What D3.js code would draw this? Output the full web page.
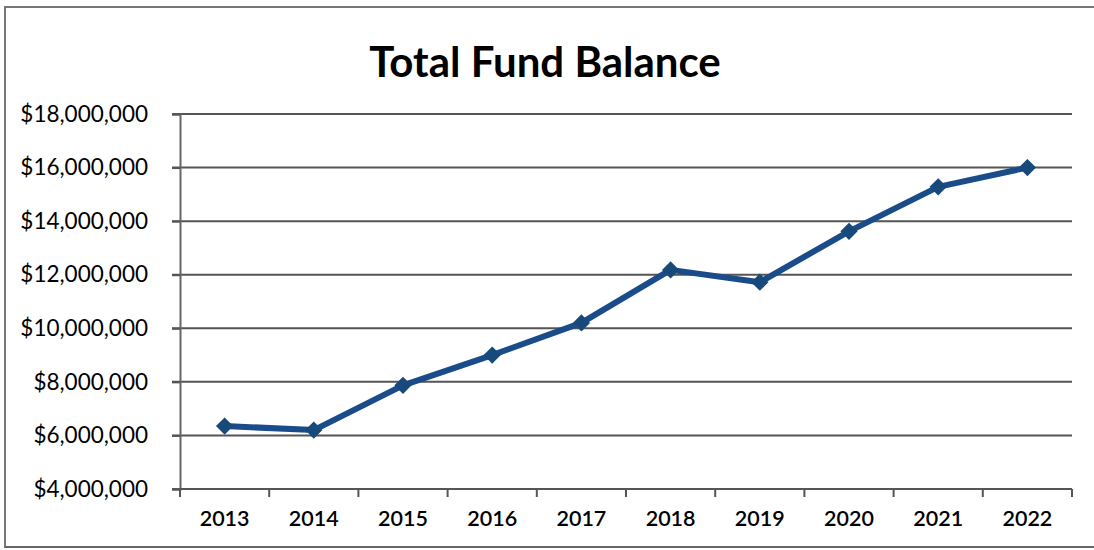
<!DOCTYPE html>
<html><head><meta charset="utf-8">
<script src="https://cdn.jsdelivr.net/npm/d3@7"></script>
<style>body{margin:0;background:#fff}svg{display:block}</style>
</head><body>
<svg id="c" width="1094" height="550"></svg>
<script>
const years = ["2013","2014","2015","2016","2017","2018","2019","2020","2021","2022"];
const balances = [6350000, 6200000, 7870000, 9000000, 10200000, 12180000, 11720000, 13620000, 15280000, 16000000];
const yTicks = [4000000, 6000000, 8000000, 10000000, 12000000, 14000000, 16000000, 18000000];
const title = "Total Fund Balance";

const svg = d3.select("#c");
const font = "Lato, 'Open Sans', sans-serif";
const m = {l:180, r:1072, t:114, b:489};

// outer border
svg.append("path").attr("d","M5,548 L5,7 L1094,7").attr("fill","none").attr("stroke","#777").attr("stroke-width",2);
svg.append("line").attr("x1",5).attr("x2",1094).attr("y1",547).attr("y2",547).attr("stroke","#666").attr("stroke-width",2);

svg.append("text").attr("x",545).attr("y",77).attr("text-anchor","middle")
  .attr("font-family",font).attr("font-weight","bold").attr("font-size",42).attr("fill","#000").text(title);

const x = d3.scaleBand().domain(years).range([m.l, m.r]);
const y = d3.scaleLinear().domain([4000000, 18000000]).range([m.b, m.t]);

// gridlines
svg.append("g").selectAll("line").data(yTicks).join("line")
  .attr("x1",m.l-8).attr("x2",m.r).attr("y1",d=>y(d)).attr("y2",d=>y(d))
  .attr("stroke","#555").attr("stroke-width",2);

// y axis
const ya = svg.append("g").attr("transform",`translate(${m.l},0)`)
  .call(d3.axisLeft(y).tickValues(yTicks).tickSize(8).tickPadding(24).tickFormat(d=>"$"+d3.format(",")(d)));
ya.select(".domain").attr("stroke","#666").attr("stroke-width",2);
ya.selectAll(".tick line").attr("stroke","#555").attr("stroke-width",2);
ya.selectAll("text").attr("font-family",font).attr("font-size",22.5).attr("fill","#000");

// x axis
const xa = svg.append("g").attr("transform",`translate(0,${m.b})`)
  .call(d3.axisBottom(x).tickSize(0).tickPadding(22));
xa.select(".domain").remove();
xa.selectAll("text").attr("font-family",font).attr("font-size",21.5).attr("font-weight","600").attr("fill","#000");
const bounds = years.map(d=>x(d)).concat([m.r]);
svg.append("g").selectAll("line").data(bounds).join("line")
  .attr("x1",d=>d).attr("x2",d=>d).attr("y1",m.b).attr("y2",m.b+8)
  .attr("stroke","#555").attr("stroke-width",2);
svg.append("line").attr("x1",m.l).attr("x2",m.r).attr("y1",m.b).attr("y2",m.b).attr("stroke","#555").attr("stroke-width",2);

// line
const cx = d=>x(d)+x.bandwidth()/2;
const line = d3.line().x((d,i)=>cx(years[i])).y(d=>y(d));
svg.append("path").datum(balances).attr("d",line).attr("fill","none")
  .attr("stroke","#1b4c8a").attr("stroke-width",6).attr("stroke-linejoin","round");

svg.append("g").selectAll("path").data(balances).join("path")
  .attr("transform",(d,i)=>`translate(${cx(years[i])},${y(d)})`)
  .attr("d",d3.symbol(d3.symbolDiamond2,190)).attr("fill","#174a7a");
</script>
</body></html>
